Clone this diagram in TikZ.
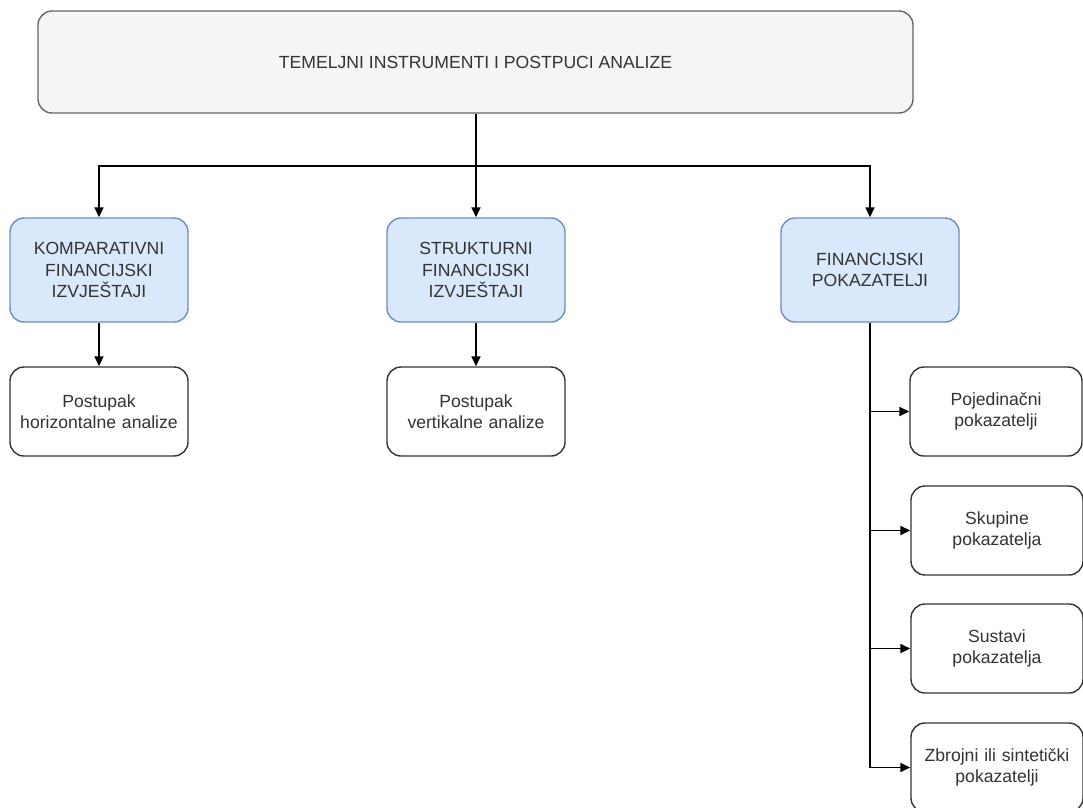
\documentclass[tikz,border=0pt]{standalone}
\usepackage{fontspec}
\setmainfont{Liberation Sans}
\usetikzlibrary{arrows.meta}
\definecolor{txt}{HTML}{333333}
\definecolor{grayfill}{HTML}{F5F5F5}
\definecolor{graydraw}{HTML}{666666}
\definecolor{bluefill}{HTML}{DAE8FC}
\definecolor{bluedraw}{HTML}{6C8EBF}
\tikzset{
  base/.style={rounded corners=14pt, line width=1.4pt, align=center, text=txt,
    font=\fontsize{17.6}{21.5}\selectfont, inner sep=2pt},
  topbox/.style={base, fill=grayfill, draw=graydraw, minimum width=875pt, minimum height=102pt},
  bluebox/.style={base, fill=bluefill, draw=bluedraw, minimum width=178pt, minimum height=104pt, text width=172pt},
  whitebox/.style={base, fill=white, draw=black!80, minimum width=178pt, minimum height=89pt, text width=172pt},
  rightbox/.style={base, fill=white, draw=black!80, minimum width=172pt, minimum height=89pt, text width=168pt},
  arr/.style={line width=1.6pt, draw=black, -{Triangle[length=10pt,width=9pt]}},
  ln/.style={line width=1.6pt, draw=black}
}
\begin{document}
\begin{tikzpicture}[x=1pt,y=-1pt]
\useasboundingbox (0,0) rectangle (1083,807);
\node[topbox] (top) at (475.5,62) {TEMELJNI INSTRUMENTI I POSTPUCI ANALIZE};
\node[bluebox] (k1) at (99,270) {KOMPARATIVNI\\FINANCIJSKI\\IZVJEŠTAJI};
\node[bluebox] (k2) at (476,270) {STRUKTURNI\\FINANCIJSKI\\IZVJEŠTAJI};
\node[bluebox] (k3) at (870,270) {FINANCIJSKI\\POKAZATELJI};
\node[whitebox] (h) at (99,411.5) {Postupak\\horizontalne analize};
\node[whitebox] (v) at (476,411.5) {Postupak\\vertikalne analize};
\node[rightbox] (p1) at (996,411.5) {Pojedinačni\\pokazatelji};
\node[rightbox] (p2) at (997,530.5) {Skupine\\pokazatelja};
\node[rightbox] (p3) at (997,648.5) {Sustavi\\pokazatelja};
\node[rightbox] (p4) at (997,767.5) {Zbrojni ili sintetički\\pokazatelji};
\coordinate (j) at (476,166);
\draw[ln] (top.south -| j) -- (j);
\draw[arr] (j) -| (k1.north);
\draw[arr] (j) -| (k3.north);
\draw[arr] (j) -- (k2.north);
\draw[arr] (k1) -- (h);
\draw[arr] (k2) -- (v);
\draw[arr] (k3.south) |- (p1.west);
\draw[arr] (k3.south) |- (p2.west);
\draw[arr] (k3.south) |- (p3.west);
\draw[arr] (k3.south) |- (p4.west);
\end{tikzpicture}
\end{document}
